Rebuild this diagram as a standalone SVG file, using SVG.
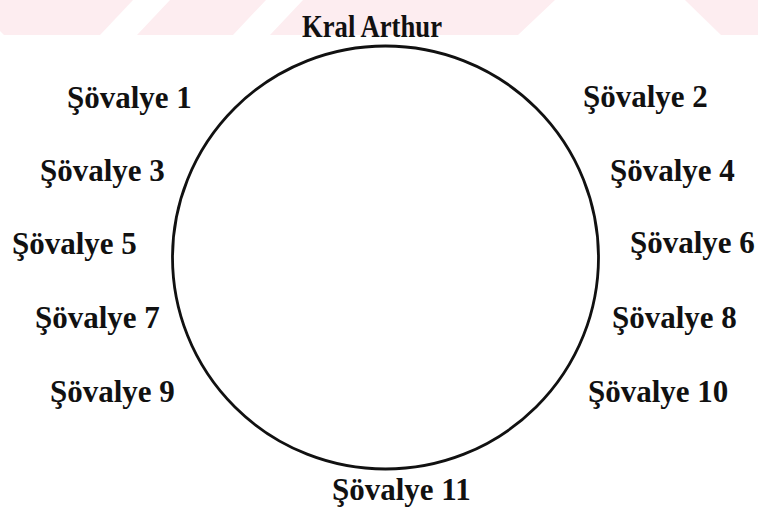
<svg xmlns="http://www.w3.org/2000/svg" width="758" height="521" viewBox="0 0 758 521">
  <style>
    .band { fill: #fdedf0; stroke: none; }
    .label { font-family: "Liberation Serif", "Times New Roman", serif; font-weight: bold; font-size: 31px; fill: #111; }
    .table { fill: none; stroke: #111; stroke-width: 2.8; }
  </style>
  <rect width="758" height="521" fill="#fff"/>
  <!-- faint diagonal band along the top edge -->
  <g id="band">
    <polygon class="band" points="0,0 133,0 100,35 4,35 0,31"/>
    <polygon class="band" points="170,0 266,0 233,35 137,35"/>
    <polygon class="band" points="303,0 555,0 518,35 270,35"/>
    <polygon class="band" points="685,0 758,0 758,35 721,35"/>
  </g>
  <!-- the round table -->
  <g id="connectors"></g>
  <g id="table">
    <ellipse class="table" cx="385.5" cy="257.5" rx="213" ry="211.5"/>
  </g>
  <g id="arthur"><text class="label" x="302" y="37" textLength="140" lengthAdjust="spacingAndGlyphs">Kral Arthur</text></g>
  <g id="knight1"><text class="label" x="67" y="108">Şövalye 1</text></g>
  <g id="knight2"><text class="label" x="583" y="107">Şövalye 2</text></g>
  <g id="knight3"><text class="label" x="40" y="181">Şövalye 3</text></g>
  <g id="knight4"><text class="label" x="610" y="181">Şövalye 4</text></g>
  <g id="knight5"><text class="label" x="12" y="254">Şövalye 5</text></g>
  <g id="knight6"><text class="label" x="630" y="253">Şövalye 6</text></g>
  <g id="knight7"><text class="label" x="35" y="328">Şövalye 7</text></g>
  <g id="knight8"><text class="label" x="612" y="328">Şövalye 8</text></g>
  <g id="knight9"><text class="label" x="50" y="402">Şövalye 9</text></g>
  <g id="knight10"><text class="label" x="588" y="402">Şövalye 10</text></g>
  <g id="knight11"><text class="label" x="332" y="500">Şövalye 11</text></g>
</svg>
